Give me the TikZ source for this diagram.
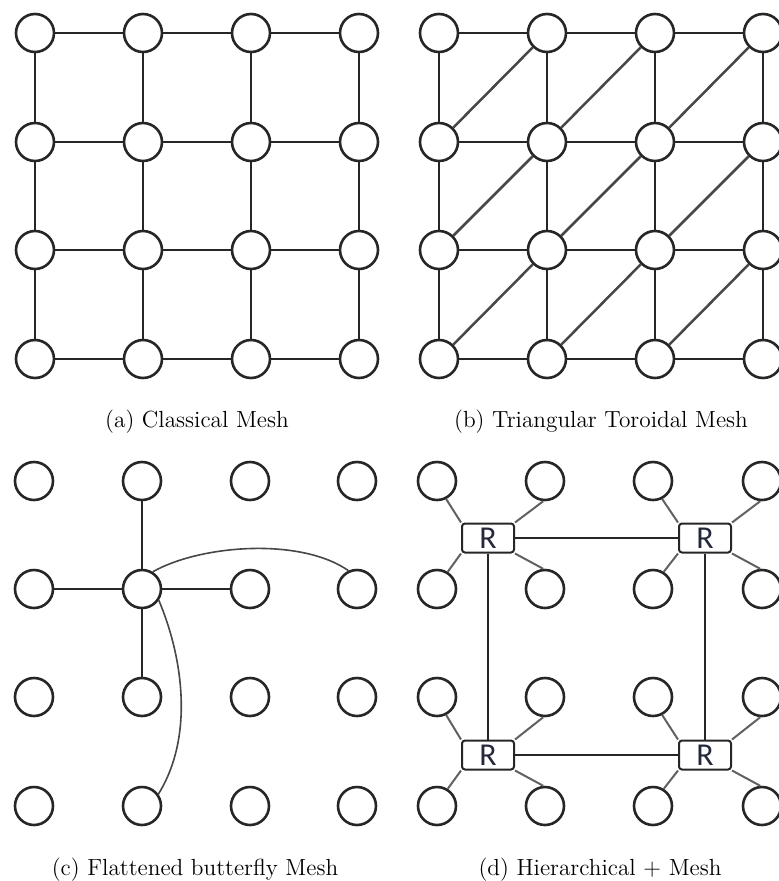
\documentclass[tikz,border=0pt]{standalone}
\usepackage{fontspec}
\newfontfamily\routerfont{Carlito}
\definecolor{rtext}{RGB}{36,40,58}
\begin{document}
\begin{tikzpicture}[x=0.5bp,y=-0.5bp,
  pe/.style={circle,draw=black!85,line width=1.3bp,minimum size=19bp,inner sep=0pt},
  link/.style={draw=black!85,line width=1bp},
  diag/.style={draw=black!72,line width=1.25bp},
  express/.style={draw=black!72,line width=0.8bp},
  spoke/.style={draw=black!62,line width=1bp},
  router/.style={draw=black!85,line width=1bp,rounded corners=1.5bp,
    minimum width=26bp,minimum height=14.5bp,inner sep=0pt,
    font=\routerfont\fontsize{16}{16}\selectfont,text=rtext},
  subcaption/.style={anchor=base,inner sep=0pt,font=\fontsize{11.7}{14}\selectfont}]
\useasboundingbox (0,0) rectangle (779,881);
\clip (0,0) rectangle (779,881);

% (a) classical mesh
\foreach \x [count=\i from 0] in {35,143,251,359}
  \foreach \y [count=\j from 0] in {33,142,250,359}
    \node[pe] (a-\i-\j) at (\x,\y) {};
\foreach \i in {0,...,3}
  \foreach \j in {0,1,2} {
    \pgfmathtruncatemacro\k{\j+1}
    \draw[link] (a-\i-\j) -- (a-\i-\k);
    \draw[link] (a-\j-\i) -- (a-\k-\i);
  }

% (b) triangular toroidal mesh
\foreach \x [count=\i from 0] in {439,547,655,763}
  \foreach \y [count=\j from 0] in {33,142,250,359}
    \node[pe] (b-\i-\j) at (\x,\y) {};
\foreach \i in {0,...,3}
  \foreach \j in {0,1,2} {
    \pgfmathtruncatemacro\k{\j+1}
    \draw[link] (b-\i-\j) -- (b-\i-\k);
    \draw[link] (b-\j-\i) -- (b-\k-\i);
  }
\foreach \i in {0,1,2}
  \foreach \j in {1,2,3} {
    \pgfmathtruncatemacro\ii{\i+1}
    \pgfmathtruncatemacro\jj{\j-1}
    \draw[diag] (b-\i-\j) -- (b-\ii-\jj);
  }

% (c) flattened butterfly
\foreach \x [count=\i from 0] in {34,142,250,357}
  \foreach \y [count=\j from 0] in {481,589,697,806}
    \node[pe] (c-\i-\j) at (\x,\y) {};
\draw[link] (c-1-1) -- (c-1-0);
\draw[link] (c-1-1) -- (c-0-1);
\draw[link] (c-1-1) -- (c-2-1);
\draw[link] (c-1-1) -- (c-1-2);
\draw[express] (c-1-1.58) .. controls (200,545) and (300,537) .. (c-3-1.115);
\draw[express] (c-1-1.-34) .. controls (182,655) and (195,735) .. (c-1-3.36);

% (d) hierarchical + mesh
\foreach \x [count=\i from 0] in {437,545,653,762}
  \foreach \y [count=\j from 0] in {481,589,697,806}
    \node[pe] (d-\i-\j) at (\x,\y) {};
\node[router] (r-0-0) at (488,538) {R};
\node[router] (r-1-0) at (705,538) {R};
\node[router] (r-0-1) at (488,755) {R};
\node[router] (r-1-1) at (705,755) {R};
\draw[link] (r-0-0) -- (r-1-0);
\draw[link] (r-0-1) -- (r-1-1);
\draw[link] (r-0-0) -- (r-0-1);
\draw[link] (r-1-0) -- (r-1-1);
\foreach \p/\q in {0/0,1/0,0/1,1/1} {
  \pgfmathtruncatemacro\cl{2*\p}
  \pgfmathtruncatemacro\cr{2*\p+1}
  \pgfmathtruncatemacro\rt{2*\q}
  \pgfmathtruncatemacro\rb{2*\q+1}
  \draw[spoke] (r-\p-\q.north west) -- (d-\cl-\rt.-63);
  \draw[spoke] (r-\p-\q.north east) -- (d-\cr-\rt.-95);
  \draw[spoke] (r-\p-\q.south west) -- (d-\cl-\rb.58);
  \draw[spoke] (r-\p-\q.south east) -- (d-\cr-\rb.95);
}

% captions
\node[subcaption] (cap-a) at (197,427) {(a) Classical Mesh};
\node[subcaption] (cap-b) at (601,427) {(b) Triangular Toroidal Mesh};
\node[subcaption] (cap-c) at (195,875) {(c) Flattened butterfly Mesh};
\node[subcaption] (cap-d) at (600,875) {(d) Hierarchical + Mesh};
\end{tikzpicture}
\end{document}
